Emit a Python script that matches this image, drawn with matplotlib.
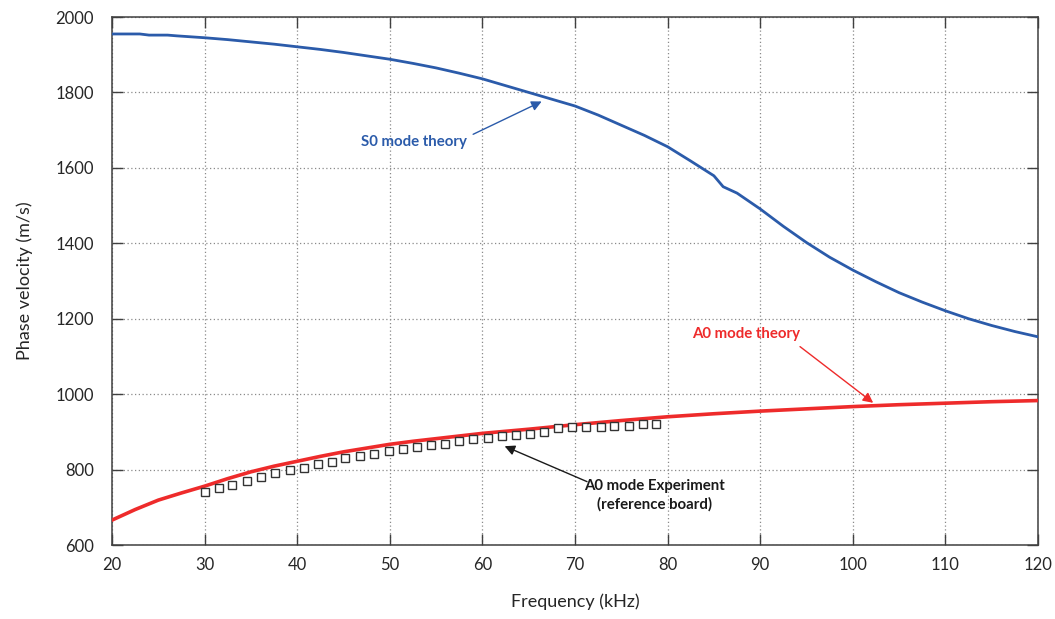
import matplotlib
matplotlib.use("Agg")
import matplotlib.pyplot as plt

# S0 mode, theoretical dispersion curve
s0_freq = [20, 23, 24, 26, 27, 30, 32.5, 35, 37.5, 40, 42.5, 45, 47.5, 50, 52.5,
           55, 57.5, 60, 62.5, 65, 67.5, 70, 72.5, 75, 77.5, 80, 82.5, 85, 86,
           87.5, 90, 92.5, 95, 97.5, 100, 102.5, 105, 107.5, 110, 112.5, 115,
           117.5, 120]
s0_vel = [1955, 1955, 1952, 1952, 1950, 1945, 1940, 1934, 1928, 1921, 1914, 1906,
          1897, 1888, 1877, 1865, 1851, 1836, 1818, 1800, 1782, 1764, 1740, 1713,
          1686, 1656, 1618, 1579, 1550, 1533, 1491, 1445, 1402, 1363, 1329, 1298,
          1269, 1244, 1221, 1200, 1182, 1166, 1152]

# A0 mode, theoretical dispersion curve
a0_freq = [20, 22.5, 25, 27.5, 30, 32.5, 35, 37.5, 40, 42.5, 45, 47.5, 50, 52.5,
           55, 57.5, 60, 65, 70, 75, 80, 85, 90, 95, 100, 105, 110, 115, 120]
a0_vel = [666, 694, 719, 738, 756, 776, 794, 809, 822, 835, 847, 857, 867, 875,
          882, 889, 896, 907, 919, 930, 940, 948, 955, 961, 967, 972, 976, 980, 983]

# A0 mode, measured on the reference board
exp_freq = [30.0, 31.6, 33.0, 34.6, 36.1, 37.6, 39.2, 40.7, 42.3, 43.8, 45.2, 46.8,
            48.3, 49.9, 51.4, 52.9, 54.5, 56.0, 57.5, 59.0, 60.6, 62.1, 63.6, 65.1,
            66.7, 68.2, 69.7, 71.2, 72.8, 74.2, 75.8, 77.3, 78.8]
exp_vel = [741, 751, 759, 770, 781, 791, 799, 805, 814, 821, 830, 837, 840, 850,
           854, 859, 866, 869, 875, 880, 884, 889, 891, 894, 900, 910, 914, 912,
           914, 915, 915, 920, 920]

x_ticks = [20, 30, 40, 50, 60, 70, 80, 90, 100, 110, 120]
y_ticks = [600, 800, 1000, 1200, 1400, 1600, 1800, 2000]

BLUE = "#2B5BAA"
RED = "#EE2B2B"
DARK = "#1a1a1a"
FONT = ["Lato", "DejaVu Sans"]

plt.rcParams["font.family"] = FONT

fig = plt.figure(figsize=(10.55, 6.19), dpi=100)
ax = fig.add_axes([112 / 1055, 1 - 545 / 619, (1038 - 112) / 1055, (545 - 17) / 619])

ax.plot(s0_freq, s0_vel, color=BLUE, lw=2.0, zorder=3)
ax.plot(a0_freq, a0_vel, color=RED, lw=2.6, zorder=3)
ax.plot(exp_freq, exp_vel, linestyle="none", marker="s", markersize=5.4,
        markerfacecolor="white", markeredgecolor="#333333", markeredgewidth=1.0,
        zorder=4)

ax.set_xlim(20, 120)
ax.set_ylim(600, 2000)
ax.set_xticks(x_ticks)
ax.set_yticks(y_ticks)
ax.grid(True, linestyle=(0, (1, 2)), color="#8a8a8a", lw=0.9)
ax.set_axisbelow(True)

ax.tick_params(direction="in", length=8, width=1.0, color="#404040",
               top=True, right=True, labelsize=12, labelcolor="#262626")
ax.tick_params(axis="y", pad=13)
ax.tick_params(axis="x", pad=9)
for sp in ax.spines.values():
    sp.set_color("#404040")
    sp.set_linewidth(1.1)

ax.set_xlabel("Frequency (kHz)", fontsize=13, color="#262626", labelpad=14)
ax.set_ylabel("Phase velocity (m/s)", fontsize=13, color="#262626", labelpad=16)


def callout(text, xy, xytext, tail, color, **kw):
    """Label placed at xytext with a thin arrow running from tail to xy."""
    ax.text(xytext[0], xytext[1], text, ha="center", va="center", fontsize=10.8,
            fontweight="bold", color=color, zorder=5, **kw)
    ax.annotate("", xy=xy, xytext=tail,
                arrowprops=dict(arrowstyle="-|>", color=color, lw=1.0,
                                mutation_scale=15, shrinkA=0, shrinkB=0),
                zorder=5)


callout("S0 mode theory", (66.4, 1776), (52.6, 1668), (59.0, 1689), BLUE)
callout("A0 mode theory", (102.2, 977), (88.5, 1160), (94.3, 1126), RED)
callout("A0 mode Experiment\n(reference board)", (62.4, 862), (78.6, 732),
        (71.3, 768), DARK, linespacing=1.3)

fig.savefig("out.png", dpi=100)
